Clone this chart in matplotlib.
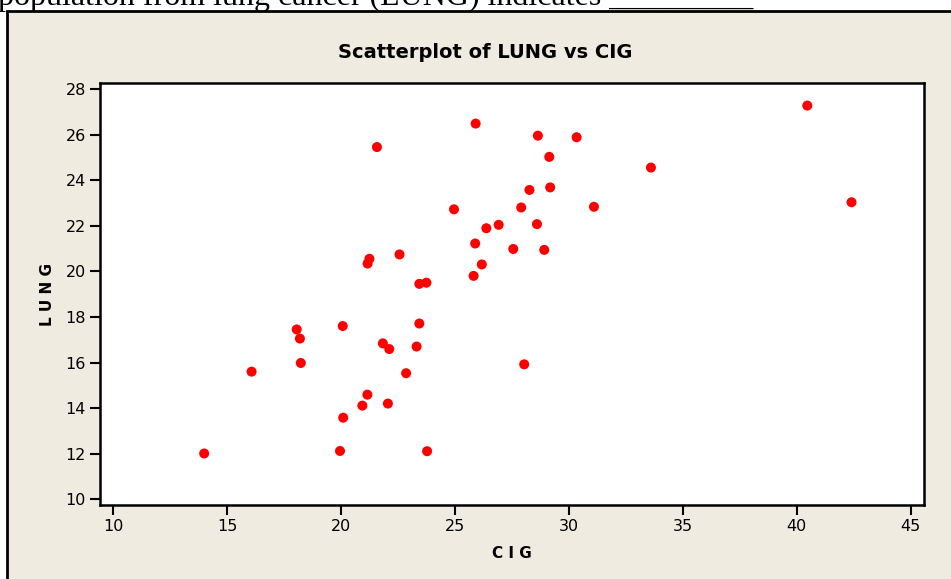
import matplotlib
matplotlib.use("Agg")
import matplotlib.pyplot as plt
from matplotlib.patches import Rectangle

# CIG vs LUNG
cig = [18.20, 25.82, 18.24, 28.60, 31.10, 33.60, 40.46, 28.27, 20.10, 27.91,
       26.18, 22.12, 21.84, 23.44, 21.58, 28.92, 25.91, 26.92, 24.96, 22.06,
       16.08, 27.56, 23.75, 23.32, 42.40, 28.64, 21.16, 29.14, 19.96, 26.38,
       23.44, 23.78, 29.18, 18.06, 20.94, 20.08, 22.57, 14.00, 25.89, 21.17,
       21.25, 22.86, 28.04, 30.34]
lung = [17.05, 19.80, 15.98, 22.07, 22.83, 24.55, 27.27, 23.57, 13.58, 22.80,
        20.30, 16.59, 16.84, 17.71, 25.45, 20.94, 26.48, 22.04, 22.72, 14.20,
        15.60, 20.98, 19.50, 16.70, 23.03, 25.95, 14.59, 25.02, 12.12, 21.89,
        19.45, 12.11, 23.68, 17.45, 14.11, 17.60, 20.74, 12.01, 21.22, 20.34,
        20.55, 15.53, 15.92, 25.88]
x_ticks = [10, 15, 20, 25, 30, 35, 40, 45]
y_ticks = [10, 12, 14, 16, 18, 20, 22, 24, 26, 28]

BG = "#efebe1"
W, H = 951, 579

fig = plt.figure(figsize=(W / 100, H / 100), dpi=100, facecolor="white")

# beige panel with black frame (right/bottom edges fall outside the crop)
fig.patches.append(Rectangle((7 / W, -0.05), 1.1, 1 - 11 / H + 0.05,
                             transform=fig.transFigure, facecolor=BG,
                             edgecolor="black", linewidth=2, zorder=-10))

# leftover text of the page above the figure, cut at the top
fig.text(-0.002, 1 - 5 / H, "population from lung cancer (LUNG) indicates _________",
         family="Liberation Serif", fontsize=23, ha="left", va="baseline",
         color="black", zorder=-5)

ax = fig.add_axes([100 / W, 1 - 505 / H, 824 / W, 422 / H])
ax.set_facecolor("white")
ax.scatter(cig, lung, s=52, color="#ff0000", edgecolors="none", zorder=3)

ax.set_xlim(9.43, 45.58)
ax.set_ylim(9.75, 28.26)
ax.set_xticks(x_ticks)
ax.set_yticks(y_ticks)
for s in ax.spines.values():
    s.set_linewidth(1.8)
ax.tick_params(direction="out", length=7, width=1.5, labelsize=11.5, pad=3)

ax.set_xlabel("C I G", fontsize=11, fontweight="bold", labelpad=9)
ax.set_ylabel("L U N G", fontsize=11, fontweight="bold", labelpad=8)
fig.text(485 / W, 1 - 52 / H, "Scatterplot of LUNG vs CIG", ha="center",
         va="center", fontsize=14, fontweight="bold", family="DejaVu Sans")

fig.savefig("out.png", dpi=100, facecolor="white")
